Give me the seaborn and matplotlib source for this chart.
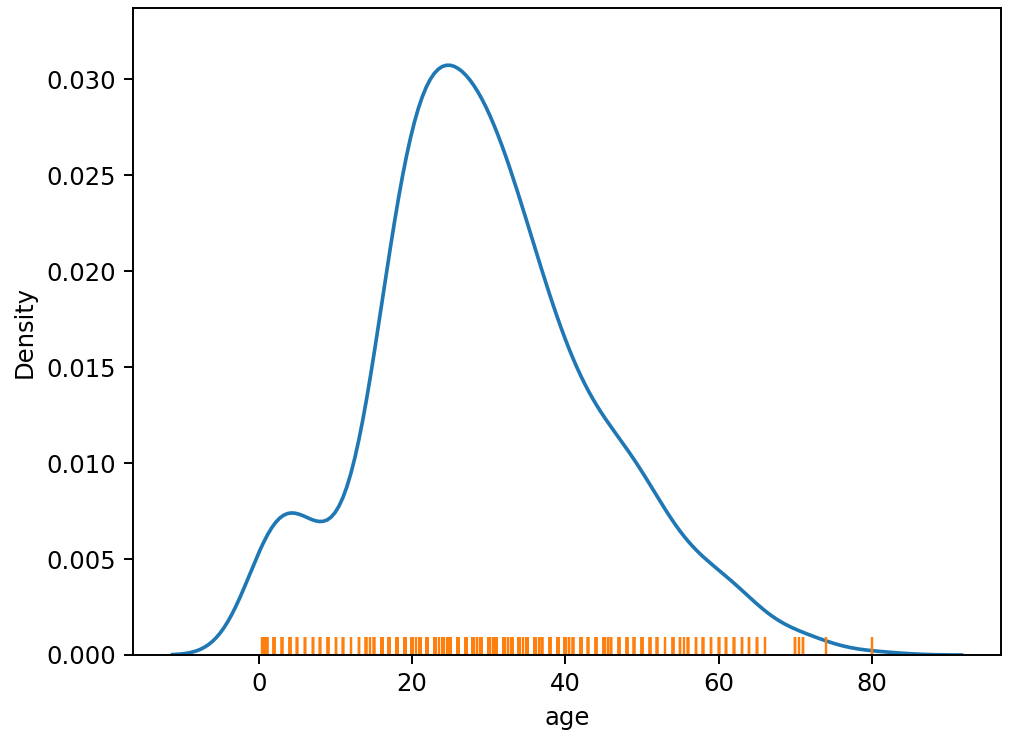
import numpy as np
import pandas as pd
import matplotlib
matplotlib.use("Agg")
import matplotlib.pyplot as plt
import seaborn as sns

# Titanic passenger ages (value -> count)
age_values = [24, 22, 18, 28, 30, 19, 21, 25, 36, 29,
              32, 35, 27, 26, 31, 16, 23, 33, 34, 20,
              39, 17, 40, 42, 45, 38, 50, 2, 4, 47,
              44, 48, 54, 9, 1, 51, 52, 14, 3, 49,
              41, 37, 58, 15, 43, 56, 11, 5, 60, 62,
              8, 65, 6, 7, 46, 61, 13, 10, 55, 57,
              59, 63, 64, 70, 71, 0.83, 0.75, 30.5, 28.5, 32.5,
              45.5, 40.5, 12, 53, 66, 0.92, 0.67, 0.42, 14.5, 20.5,
              23.5, 24.5, 34.5, 36.5, 55.5, 70.5, 74, 80]
age_counts = [30, 27, 26, 25, 25, 25, 24, 23, 22, 20,
              18, 18, 18, 18, 17, 17, 15, 15, 15, 15,
              14, 13, 13, 13, 12, 11, 10, 10, 10, 9,
              9, 9, 8, 8, 7, 7, 6, 6, 6, 6,
              6, 6, 5, 5, 5, 4, 4, 4, 4, 4,
              4, 3, 3, 3, 3, 3, 2, 2, 2, 2,
              2, 2, 2, 2, 2, 2, 2, 2, 2, 2,
              2, 2, 1, 1, 1, 1, 1, 1, 1, 1,
              1, 1, 1, 1, 1, 1, 1, 1]

df = pd.DataFrame({"age": np.repeat(age_values, age_counts)})

W, H, DPI = 1012, 735, 175
fig = plt.figure(figsize=(W / DPI, H / DPI), dpi=DPI)
ax = fig.add_axes([133 / W, (H - 655) / H, 868 / W, 647 / H])

sns.kdeplot(data=df, x="age", ax=ax, color="C0")
sns.rugplot(data=df, x="age", ax=ax, color="C1", height=0.028)

ax.set_ylim(0, 0.0337)
ax.set_xlabel("age")
ax.set_ylabel("Density")

fig.savefig("out.png", dpi=DPI)
